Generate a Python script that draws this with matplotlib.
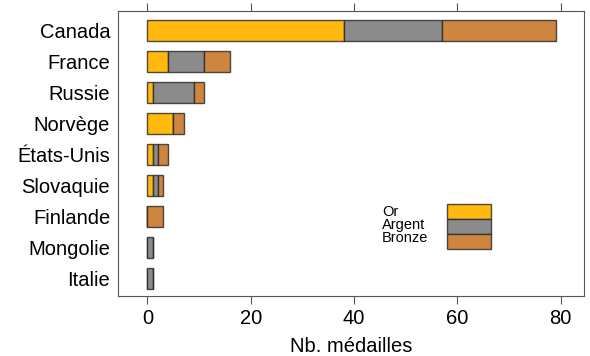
import matplotlib
matplotlib.use('Agg')
import matplotlib.pyplot as plt
from matplotlib.patches import Rectangle

plt.rcParams['font.family'] = ['Liberation Sans', 'DejaVu Sans']

# médailles par pays (haut vers bas)
pays = ['Canada', 'France', 'Russie', 'Norvège', 'États-Unis',
        'Slovaquie', 'Finlande', 'Mongolie', 'Italie']
nb_or = [38, 4, 1, 5, 1, 1, 0, 0, 0]
nb_argent = [19, 7, 8, 0, 1, 1, 0, 1, 1]
nb_bronze = [22, 5, 2, 2, 2, 1, 3, 0, 0]

types = ['Or', 'Argent', 'Bronze']
couleurs = ['#FFB90F', '#8B8B8B', '#CD853F']

fig = plt.figure(figsize=(5.9, 3.56), dpi=100)
ax = fig.add_axes([0.2008, 0.1685, 0.789, 0.8005])

y = list(range(len(pays)))
gauche = [0] * len(pays)
for vals, c in zip([nb_or, nb_argent, nb_bronze], couleurs):
    ax.barh(y, vals, left=gauche, height=0.68, color=c,
            edgecolor=(0.15, 0.15, 0.15, 0.8), linewidth=1.0)
    gauche = [g + v for g, v in zip(gauche, vals)]

ax.set_xlim(-5.6, 84.5)
ax.set_ylim(8.58, -0.63)
ax.set_yticks(y)
ax.set_yticklabels(pays, fontsize=14.5)
ax.set_xticks([0, 20, 40, 60, 80])
ax.tick_params(axis='x', labelsize=14.5, length=6, width=0.8, color='#555555',
               top=True, pad=3)
ax.tick_params(axis='y', length=0, pad=6)
for s in ax.spines.values():
    s.set_color('#555555')
    s.set_linewidth(0.8)
ax.set_xlabel('Nb. médailles', fontsize=14.5, labelpad=7)

# légende
fig_w, fig_h = 590, 356
for i, (t, c) in enumerate(zip(types, couleurs)):
    fig.text(382 / fig_w, 1 - (212 + 13 * i) / fig_h, t, fontsize=10.5,
             va='center', ha='left')
    fig.add_artist(Rectangle((447 / fig_w, 1 - (219 + 15 * i) / fig_h),
                             44 / fig_w, 15 / fig_h, facecolor=c,
                             edgecolor=(0.15, 0.15, 0.15, 0.8), linewidth=1.0,
                             transform=fig.transFigure))

fig.savefig('out.png', dpi=100)
